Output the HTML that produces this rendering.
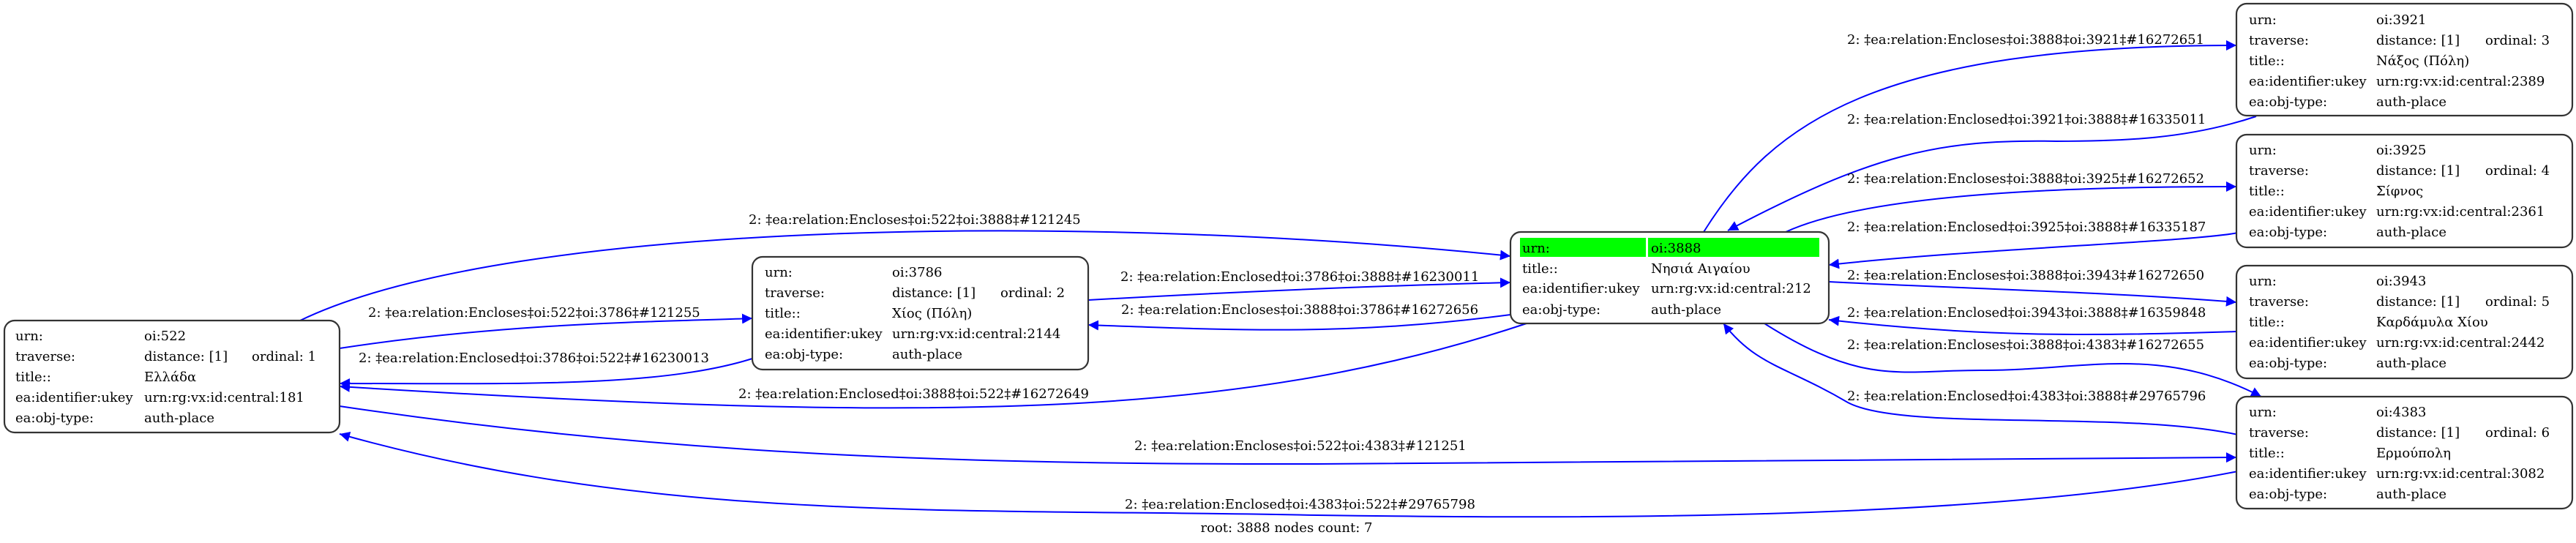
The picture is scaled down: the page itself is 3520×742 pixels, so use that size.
<!DOCTYPE html>
<html><head><meta charset="utf-8"><style>
html,body{margin:0;padding:0;background:#fff;}
svg{display:block;}
text{font-family:"DejaVu Serif","Liberation Serif",serif;font-size:18px;fill:#000;}
.e{fill:none;stroke:#0000ff;stroke-width:2;}
.b{fill:#fff;stroke:#333;stroke-width:2.2;}
</style></head><body>
<svg width="3520" height="742" viewBox="0 0 3520 742" xmlns="http://www.w3.org/2000/svg">
<defs><marker id="a" viewBox="0 0 10 10" refX="10" refY="5" markerWidth="14" markerHeight="14" markerUnits="userSpaceOnUse" orient="auto"><path d="M0,0 L10,5 L0,10 z" fill="#0000ff"/></marker></defs>

<!-- edges -->
<path class="e" marker-end="url(#a)" d="M410,438 C700,298 1500,292 2064,350"/>
<path class="e" marker-end="url(#a)" d="M464,476 C700,440 900,440 1028,435"/>
<path class="e" marker-end="url(#a)" d="M1028,490 C900,530 700,524 464,524"/>
<path class="e" marker-end="url(#a)" d="M2086,442 C1700,570 1300,580 464,528"/>
<path class="e" marker-end="url(#a)" d="M1487,410 C1700,398 1900,390 2064,386"/>
<path class="e" marker-end="url(#a)" d="M2064,430 C1850,458 1700,452 1487,444"/>
<path class="e" marker-end="url(#a)" d="M464,555 C900,620 1300,635 1800,634 C2400,632 2800,627 3056,625"/>
<path class="e" marker-end="url(#a)" d="M3058,644 C2700,715 2100,708 1800,704 C1300,694 900,715 464,593"/>
<path class="e" marker-end="url(#a)" d="M2328,317 C2420,170 2560,62 3056,62"/>
<path class="e" marker-end="url(#a)" d="M3083,159 C2990,190 2900,193 2810,193 C2650,190 2560,210 2361,315"/>
<path class="e" marker-end="url(#a)" d="M2440,317 C2560,262 2850,255 3056,255"/>
<path class="e" marker-end="url(#a)" d="M3058,318 C3000,330 2700,340 2499,362"/>
<path class="e" marker-end="url(#a)" d="M2499,385 C2700,395 2900,400 3056,413"/>
<path class="e" marker-end="url(#a)" d="M3058,453 C2850,460 2700,460 2499,437"/>
<path class="e" marker-end="url(#a)" d="M2411,442 C2550,530 2600,505 2712,506 C2850,506 2950,470 3090,542"/>
<path class="e" marker-end="url(#a)" d="M3058,594 C2900,560 2600,590 2525,550 C2440,500 2400,500 2355,442"/>

<!-- edge labels -->
<text x="1023" y="306">2: ‡ea:relation:Encloses‡oi:522‡oi:3888‡#121245</text>
<text x="503" y="433">2: ‡ea:relation:Encloses‡oi:522‡oi:3786‡#121255</text>
<text x="490" y="495">2: ‡ea:relation:Enclosed‡oi:3786‡oi:522‡#16230013</text>
<text x="1531" y="384">2: ‡ea:relation:Enclosed‡oi:3786‡oi:3888‡#16230011</text>
<text x="1532" y="429">2: ‡ea:relation:Encloses‡oi:3888‡oi:3786‡#16272656</text>
<text x="1009" y="544">2: ‡ea:relation:Enclosed‡oi:3888‡oi:522‡#16272649</text>
<text x="1550" y="615">2: ‡ea:relation:Encloses‡oi:522‡oi:4383‡#121251</text>
<text x="1537" y="695">2: ‡ea:relation:Enclosed‡oi:4383‡oi:522‡#29765798</text>
<text x="2524" y="60">2: ‡ea:relation:Encloses‡oi:3888‡oi:3921‡#16272651</text>
<text x="2524" y="169">2: ‡ea:relation:Enclosed‡oi:3921‡oi:3888‡#16335011</text>
<text x="2524" y="250">2: ‡ea:relation:Encloses‡oi:3888‡oi:3925‡#16272652</text>
<text x="2524" y="316">2: ‡ea:relation:Enclosed‡oi:3925‡oi:3888‡#16335187</text>
<text x="2524" y="382">2: ‡ea:relation:Encloses‡oi:3888‡oi:3943‡#16272650</text>
<text x="2524" y="433">2: ‡ea:relation:Enclosed‡oi:3943‡oi:3888‡#16359848</text>
<text x="2524" y="477">2: ‡ea:relation:Encloses‡oi:3888‡oi:4383‡#16272655</text>
<text x="2524" y="547">2: ‡ea:relation:Enclosed‡oi:4383‡oi:3888‡#29765796</text>

<!-- node 522 -->
<rect class="b" x="6" y="438" width="458" height="153" rx="14"/>
<text x="21" y="465">urn:</text><text x="197" y="465">oi:522</text>
<text x="21" y="493">traverse:</text><text x="197" y="493">distance: [1]</text><text x="344" y="493">ordinal: 1</text>
<text x="21" y="521">title::</text><text x="197" y="521">Ελλάδα</text>
<text x="21" y="549">ea:identifier:ukey</text><text x="197" y="549">urn:rg:vx:id:central:181</text>
<text x="21" y="577">ea:obj-type:</text><text x="197" y="577">auth-place</text>

<!-- node 3786 -->
<rect class="b" x="1028" y="351" width="459" height="154" rx="14"/>
<text x="1045" y="378">urn:</text><text x="1219" y="378">oi:3786</text>
<text x="1045" y="406">traverse:</text><text x="1219" y="406">distance: [1]</text><text x="1367" y="406">ordinal: 2</text>
<text x="1045" y="434">title::</text><text x="1219" y="434">Χίος (Πόλη)</text>
<text x="1045" y="462">ea:identifier:ukey</text><text x="1219" y="462">urn:rg:vx:id:central:2144</text>
<text x="1045" y="490">ea:obj-type:</text><text x="1219" y="490">auth-place</text>

<!-- node 3888 -->
<rect class="b" x="2064" y="317" width="435" height="125" rx="14"/>
<rect x="2077" y="325" width="172" height="26" fill="#00ff00"/>
<rect x="2252" y="325" width="234" height="26" fill="#00ff00"/>
<text x="2080" y="345">urn:</text><text x="2256" y="345">oi:3888</text>
<text x="2080" y="373">title::</text><text x="2256" y="373">Νησιά Αιγαίου</text>
<text x="2080" y="400">ea:identifier:ukey</text><text x="2256" y="400">urn:rg:vx:id:central:212</text>
<text x="2080" y="429">ea:obj-type:</text><text x="2256" y="429">auth-place</text>

<!-- node 3921 -->
<rect class="b" x="3056" y="5" width="459" height="153" rx="14"/>
<text x="3073" y="33">urn:</text><text x="3247" y="33">oi:3921</text>
<text x="3073" y="61">traverse:</text><text x="3247" y="61">distance: [1]</text><text x="3396" y="61">ordinal: 3</text>
<text x="3073" y="89">title::</text><text x="3247" y="89">Νάξος (Πόλη)</text>
<text x="3073" y="117">ea:identifier:ukey</text><text x="3247" y="117">urn:rg:vx:id:central:2389</text>
<text x="3073" y="145">ea:obj-type:</text><text x="3247" y="145">auth-place</text>

<!-- node 3925 -->
<rect class="b" x="3056" y="184" width="459" height="154" rx="14"/>
<text x="3073" y="211">urn:</text><text x="3247" y="211">oi:3925</text>
<text x="3073" y="239">traverse:</text><text x="3247" y="239">distance: [1]</text><text x="3396" y="239">ordinal: 4</text>
<text x="3073" y="267">title::</text><text x="3247" y="267">Σίφνος</text>
<text x="3073" y="295">ea:identifier:ukey</text><text x="3247" y="295">urn:rg:vx:id:central:2361</text>
<text x="3073" y="323">ea:obj-type:</text><text x="3247" y="323">auth-place</text>

<!-- node 3943 -->
<rect class="b" x="3056" y="363" width="459" height="154" rx="14"/>
<text x="3073" y="390">urn:</text><text x="3247" y="390">oi:3943</text>
<text x="3073" y="418">traverse:</text><text x="3247" y="418">distance: [1]</text><text x="3396" y="418">ordinal: 5</text>
<text x="3073" y="446">title::</text><text x="3247" y="446">Καρδάμυλα Χίου</text>
<text x="3073" y="474">ea:identifier:ukey</text><text x="3247" y="474">urn:rg:vx:id:central:2442</text>
<text x="3073" y="502">ea:obj-type:</text><text x="3247" y="502">auth-place</text>

<!-- node 4383 -->
<rect class="b" x="3056" y="542" width="459" height="153" rx="14"/>
<text x="3073" y="569">urn:</text><text x="3247" y="569">oi:4383</text>
<text x="3073" y="597">traverse:</text><text x="3247" y="597">distance: [1]</text><text x="3396" y="597">ordinal: 6</text>
<text x="3073" y="625">title::</text><text x="3247" y="625">Ερμούπολη</text>
<text x="3073" y="653">ea:identifier:ukey</text><text x="3247" y="653">urn:rg:vx:id:central:3082</text>
<text x="3073" y="681">ea:obj-type:</text><text x="3247" y="681">auth-place</text>

<text x="1758" y="727" text-anchor="middle">root: 3888 nodes count: 7</text>
</svg>
</body></html>
